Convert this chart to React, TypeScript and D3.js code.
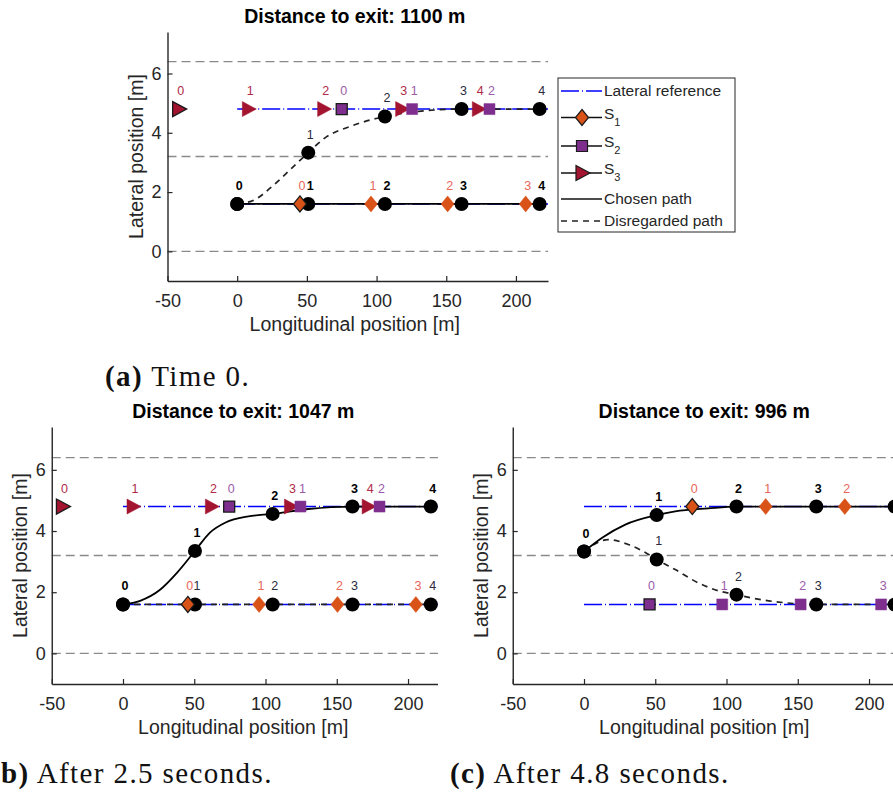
import * as d3 from "d3";
import React, { useEffect, useRef } from "react";

const W = 893;
const H = 794;
const SANS = "'Liberation Sans', Arial, Helvetica, sans-serif";
const SERIF = "'Liberation Serif', 'Times New Roman', serif";
const INK = "#262626";

// Achsen, gleich fuer alle drei Bilder
const xDomain = [-50, 223];
const yDomain = [-1, 7.4];
const xTicks = [-50, 0, 50, 100, 150, 200];
const yTicks = [0, 2, 4, 6];
const laneMarkings = [6.4, 3.2, 0];
const lateralReferences = [4.8, 1.6];

// (a) Time 0
const egoXA = [0, 51, 106, 161, 217];
const keepYA = [1.6, 1.6, 1.6, 1.6, 1.6];
const changeYA = [1.6, 3.33, 4.55, 4.8, 4.8];
const changeTraceXA = [0, 12, 26, 39, 51, 63, 82, 106, 130, 161, 217];
const changeTraceYA = [1.6, 1.73, 2.23, 2.8, 3.33, 3.83, 4.23, 4.55, 4.72, 4.8, 4.8];
const s1XA = [45, 96, 151, 207];
const s2XA = [75, 125.5, 181];
const s3XA = [-42, 8, 62, 118, 173];
const s1LaneA = 1.6;
const s2LaneA = 4.8;
const s3LaneA = 4.8;

// (b) After 2.5 seconds
const egoXB = [0, 50.5, 105, 161, 216];
const keepYB = [1.6, 1.6, 1.6, 1.6, 1.6];
const changeYB = [1.6, 3.35, 4.56, 4.8, 4.8];
const changeTraceXB = [0, 12, 26, 38, 50.5, 61, 72, 88, 105, 130, 161, 216];
const changeTraceYB = [1.6, 1.72, 2.08, 2.64, 3.35, 3.95, 4.28, 4.48, 4.56, 4.72, 4.8, 4.8];
const s1XB = [45.5, 95.5, 150.5, 205.5];
const s2XB = [74.5, 124.5, 180];
const s3XB = [-42.5, 7, 62, 117.5, 172];
const s1LaneB = 1.6;
const s2LaneB = 4.8;
const s3LaneB = 4.8;

// (c) After 4.8 seconds
const egoXC = [0, 51, 107, 163, 218];
const upperYC = [3.33, 4.52, 4.8, 4.8, 4.8];
const lowerYC = [3.33, 3.07, 1.92, 1.6, 1.6];
const upperTraceXC = [0, 13, 29, 51, 64, 87, 107, 218];
const upperTraceYC = [3.33, 3.79, 4.21, 4.52, 4.64, 4.74, 4.8, 4.8];
const lowerTraceXC = [0, 17, 31, 43, 51, 64, 80, 94, 107, 125, 140, 163, 218];
const lowerTraceYC = [3.33, 3.72, 3.56, 3.3, 3.07, 2.74, 2.31, 2.05, 1.92, 1.75, 1.66, 1.6, 1.6];
const s1XC = [76, 127.5, 183];
const s2XC = [46, 97, 152, 208.5];
const s1LaneC = 4.8;
const s2LaneC = 1.6;

const legendLabels = ["Lateral reference", "S1", "S2", "S3", "Chosen path", "Disregarded path"];

const colors: Record<string, string> = { S1: "#D95319", S2: "#7E2F8E", S3: "#A2142F" };
const labelColors: Record<string, string> = { S1: "#E8665A", S2: "#9B5BAA", S3: "#B02A48" };
const shapes: Record<string, string> = {
  S1: "M0,-8L6.5,0L0,8L-6.5,0Z",
  S2: "M-5.5,-5.5H5.5V5.5H-5.5Z",
  S3: "M-6,-7.5L8,0L-6,7.5Z",
};

const panels = [
  {
    id: "a",
    title: "Distance to exit: 1100 m",
    caption: ["(a)", " Time 0."],
    captionAt: [105, 386],
    box: { left: 167.5, right: 548, top: 32, bottom: 281, clipRight: W },
    paths: [
      { x: egoXA, y: keepYA, tx: egoXA, ty: keepYA, chosen: true },
      { x: egoXA, y: changeYA, tx: changeTraceXA, ty: changeTraceYA, chosen: false },
    ],
    vehicles: [
      { kind: "S1", x: s1XA, lane: s1LaneA },
      { kind: "S3", x: s3XA, lane: s3LaneA },
      { kind: "S2", x: s2XA, lane: s2LaneA },
    ],
  },
  {
    id: "b",
    title: "Distance to exit: 1047 m",
    // links vom Bildrand abgeschnitten, wie im Original
    caption: ["b)", " After 2.5 seconds."],
    captionAt: [1, 783],
    box: { left: 51.75, right: 440.8, top: 427, bottom: 684, clipRight: 438 },
    paths: [
      { x: egoXB, y: keepYB, tx: egoXB, ty: keepYB, chosen: false },
      { x: egoXB, y: changeYB, tx: changeTraceXB, ty: changeTraceYB, chosen: true },
    ],
    vehicles: [
      { kind: "S1", x: s1XB, lane: s1LaneB },
      { kind: "S3", x: s3XB, lane: s3LaneB },
      { kind: "S2", x: s2XB, lane: s2LaneB },
    ],
  },
  {
    id: "c",
    title: "Distance to exit: 996 m",
    caption: ["(c)", " After 4.8 seconds."],
    captionAt: [450, 783],
    box: { left: 512.75, right: 901.8, top: 427, bottom: 684, clipRight: W },
    paths: [
      { x: egoXC, y: lowerYC, tx: lowerTraceXC, ty: lowerTraceYC, chosen: false },
      { x: egoXC, y: upperYC, tx: upperTraceXC, ty: upperTraceYC, chosen: true },
    ],
    vehicles: [
      { kind: "S1", x: s1XC, lane: s1LaneC },
      { kind: "S2", x: s2XC, lane: s2LaneC },
    ],
  },
];

function drawPanel(svg: any, p: any) {
  const x = d3.scaleLinear().domain(xDomain).range([p.box.left, p.box.right]);
  const y = d3.scaleLinear().domain(yDomain).range([p.box.bottom, p.box.top]);
  const mid = (p.box.left + p.box.right) / 2 - 3;
  // Beschriftungen, die ganz ausserhalb des Bildes laegen, weglassen.
  const visible = (px: number) => px + 4 < p.box.clipRight;

  svg
    .append("clipPath")
    .attr("id", `clip-${p.id}`)
    .append("rect")
    .attr("x", -20)
    .attr("y", 0)
    .attr("width", p.box.clipRight + 20)
    .attr("height", H);
  const g = svg.append("g").attr("clip-path", `url(#clip-${p.id})`);

  // Fahrbahnmarkierungen (grau gestrichelt).
  g.append("g")
    .selectAll("line")
    .data(laneMarkings)
    .join("line")
    .attr("x1", x(xDomain[0]))
    .attr("x2", x(xDomain[1]))
    .attr("y1", (d: number) => y(d))
    .attr("y2", (d: number) => y(d))
    .attr("stroke", "#8a8a8a")
    .attr("stroke-width", 1.3)
    .attr("stroke-dasharray", "9,5");

  // Laterale Referenz (blau, Strich-Punkt).
  g.append("g")
    .selectAll("line")
    .data(lateralReferences)
    .join("line")
    .attr("x1", x(0))
    .attr("x2", x(xDomain[1]))
    .attr("y1", (d: number) => y(d))
    .attr("y2", (d: number) => y(d))
    .attr("stroke", "#0000ff")
    .attr("stroke-width", 1.5)
    .attr("stroke-dasharray", "18,3,1,3");

  // Pfade: verworfene zuerst, gewaehlter oben.
  const line = d3
    .line<[number, number]>()
    .x((d) => x(d[0]))
    .y((d) => y(d[1]))
    .curve(d3.curveMonotoneX);
  const ordered = [...p.paths].sort((a: any, b: any) => (a.chosen ? 1 : 0) - (b.chosen ? 1 : 0));
  ordered.forEach((path: any) => {
    g.append("path")
      .attr("d", line(d3.zip(path.tx, path.ty) as [number, number][]))
      .attr("fill", "none")
      .attr("stroke", path.chosen ? "#000" : "#222")
      .attr("stroke-width", path.chosen ? 1.8 : 1.7)
      .attr("stroke-dasharray", path.chosen ? null : "6,5");
  });

  // Wegpunkte des Ego-Fahrzeugs.
  p.paths.forEach((path: any) => {
    g.append("g")
      .selectAll("circle")
      .data(d3.range(path.x.length))
      .join("circle")
      .attr("cx", (i: number) => x(path.x[i]))
      .attr("cy", (i: number) => y(path.y[i]))
      .attr("r", 7)
      .attr("fill", "#000");
  });
  p.paths.forEach((path: any) => {
    g.append("g")
      .selectAll("text")
      .data(d3.range(path.x.length).filter((i) => (path.chosen || i > 0) && visible(x(path.x[i]) + 2)))
      .join("text")
      .attr("x", (i: number) => x(path.x[i]) + 2)
      .attr("y", (i: number) => y(path.y[i]) - 14)
      .attr("text-anchor", "middle")
      .attr("font-family", SANS)
      .attr("font-size", 12.5)
      .attr("font-weight", path.chosen ? "bold" : "normal")
      .attr("fill", path.chosen ? "#000" : "#2b2b3b")
      .text((i: number) => i);
  });

  // Andere Fahrzeuge S1, S2, S3.
  p.vehicles.forEach((v: any) => {
    const vg = g.append("g");
    vg.selectAll("path")
      .data(d3.range(v.x.length))
      .join("path")
      .attr("d", shapes[v.kind])
      .attr("transform", (i: number) => `translate(${x(v.x[i])},${y(v.lane)})`)
      .attr("fill", colors[v.kind])
      .attr("stroke", (i: number) => (i === 0 ? "#1a1a1a" : colors[v.kind]))
      .attr("stroke-width", (i: number) => (i === 0 ? 1.3 : 0.5));
    vg.selectAll("text")
      .data(d3.range(v.x.length).filter((i) => visible(x(v.x[i]) + 2)))
      .join("text")
      .attr("x", (i: number) => x(v.x[i]) + 2)
      .attr("y", y(v.lane) - 14)
      .attr("text-anchor", "middle")
      .attr("font-family", SANS)
      .attr("font-size", 12.5)
      .attr("fill", labelColors[v.kind])
      .text((i: number) => i);
  });

  // x-Achse (Bindestrich statt Minuszeichen wie in MATLAB).
  const xAxis = d3
    .axisBottom(x)
    .tickValues(xTicks)
    .tickFormat((d: any) => `${d}`)
    .tickSize(-5)
    .tickSizeOuter(0)
    .tickPadding(13);
  const ax = g.append("g").attr("transform", `translate(0,${p.box.bottom})`).call(xAxis);
  ax.select(".domain").attr("stroke", INK).attr("stroke-width", 1.4);
  ax.selectAll(".tick line").attr("stroke", INK).attr("stroke-width", 1.2);
  ax.selectAll(".tick text").attr("font-family", SANS).attr("font-size", 18).attr("fill", INK);

  // y-Achse.
  const yAxis = d3
    .axisLeft(y)
    .tickValues(yTicks)
    .tickFormat((d: any) => `${d}`)
    .tickSize(-5)
    .tickSizeOuter(0)
    .tickPadding(6);
  const ay = g.append("g").attr("transform", `translate(${p.box.left},0)`).call(yAxis);
  ay.select(".domain").attr("stroke", INK).attr("stroke-width", 1.4);
  ay.selectAll(".tick line").attr("stroke", INK).attr("stroke-width", 1.2);
  ay.selectAll(".tick text").attr("font-family", SANS).attr("font-size", 18).attr("fill", INK);

  // Achsenbeschriftungen und Titel.
  g.append("text")
    .attr("x", mid)
    .attr("y", p.box.bottom + 50)
    .attr("text-anchor", "middle")
    .attr("font-family", SANS)
    .attr("font-size", 19.5)
    .attr("fill", INK)
    .text("Longitudinal position [m]");
  g.append("text")
    .attr("transform", `translate(${p.box.left - 25},${(p.box.top + p.box.bottom) / 2}) rotate(-90)`)
    .attr("text-anchor", "middle")
    .attr("font-family", SANS)
    .attr("font-size", 19.5)
    .attr("fill", INK)
    .text("Lateral position [m]");
  g.append("text")
    .attr("x", mid)
    .attr("y", p.box.top - 9)
    .attr("text-anchor", "middle")
    .attr("font-family", SANS)
    .attr("font-size", 19.5)
    .attr("font-weight", "bold")
    .attr("fill", "#000")
    .text(p.title);

  // Bildunterschrift.
  const cap = svg
    .append("text")
    .attr("x", p.captionAt[0])
    .attr("y", p.captionAt[1])
    .attr("font-family", SERIF)
    .attr("font-size", 29)
    .attr("letter-spacing", 1.4)
    .attr("fill", "#111")
    .style("white-space", "pre");
  cap.append("tspan").attr("font-weight", "bold").text(p.caption[0]);
  cap.append("tspan").text(p.caption[1]);
}

function drawLegend(svg: any) {
  const box = { left: 558, top: 78, right: 735, bottom: 232 };
  const rows = [13, 39.5, 68, 95, 121, 143];
  const lg = svg.append("g");
  lg.append("rect")
    .attr("x", box.left)
    .attr("y", box.top)
    .attr("width", box.right - box.left)
    .attr("height", box.bottom - box.top)
    .attr("fill", "#fff")
    .attr("stroke", INK)
    .attr("stroke-width", 1);

  legendLabels.forEach((label, i) => {
    const yy = box.top + rows[i];
    const x1 = box.left + 3;
    const x2 = box.left + 44;
    const ln = lg.append("line").attr("x1", x1).attr("x2", x2).attr("y1", yy).attr("y2", yy);
    if (i === 0) {
      ln.attr("stroke", "#0000ff").attr("stroke-width", 1.5).attr("stroke-dasharray", "18,3,1,3");
    } else if (i === 5) {
      ln.attr("stroke", "#222").attr("stroke-width", 1.6).attr("stroke-dasharray", "6,5");
    } else {
      ln.attr("stroke", "#111").attr("stroke-width", 1.5);
    }
    const t = lg
      .append("text")
      .attr("x", box.left + 46)
      .attr("font-family", SANS)
      .attr("font-size", 15.5)
      .attr("fill", INK);
    if (label.startsWith("S") && label.length === 2) {
      lg.append("path")
        .attr("d", shapes[label])
        .attr("transform", `translate(${box.left + 24},${yy})`)
        .attr("fill", colors[label])
        .attr("stroke", "#1a1a1a")
        .attr("stroke-width", 1.2);
      t.attr("y", yy + 1);
      t.append("tspan").text("S");
      t.append("tspan").attr("font-size", 11).attr("dy", 7).text(label[1]);
    } else {
      t.attr("y", yy + 5).text(label);
    }
  });
}

export default function App() {
  const ref = useRef<SVGSVGElement>(null);

  useEffect(() => {
    const svg = d3.select(ref.current);
    svg.selectAll("*").remove();
    svg.append("rect").attr("width", W).attr("height", H).attr("fill", "#fff");
    panels.forEach((p) => drawPanel(svg, p));
    drawLegend(svg);
  }, []);

  return (
    <svg
      ref={ref}
      width={W}
      height={H}
      style={{ position: "absolute", left: 0, top: 0, background: "#fff" }}
    ></svg>
  );
}
